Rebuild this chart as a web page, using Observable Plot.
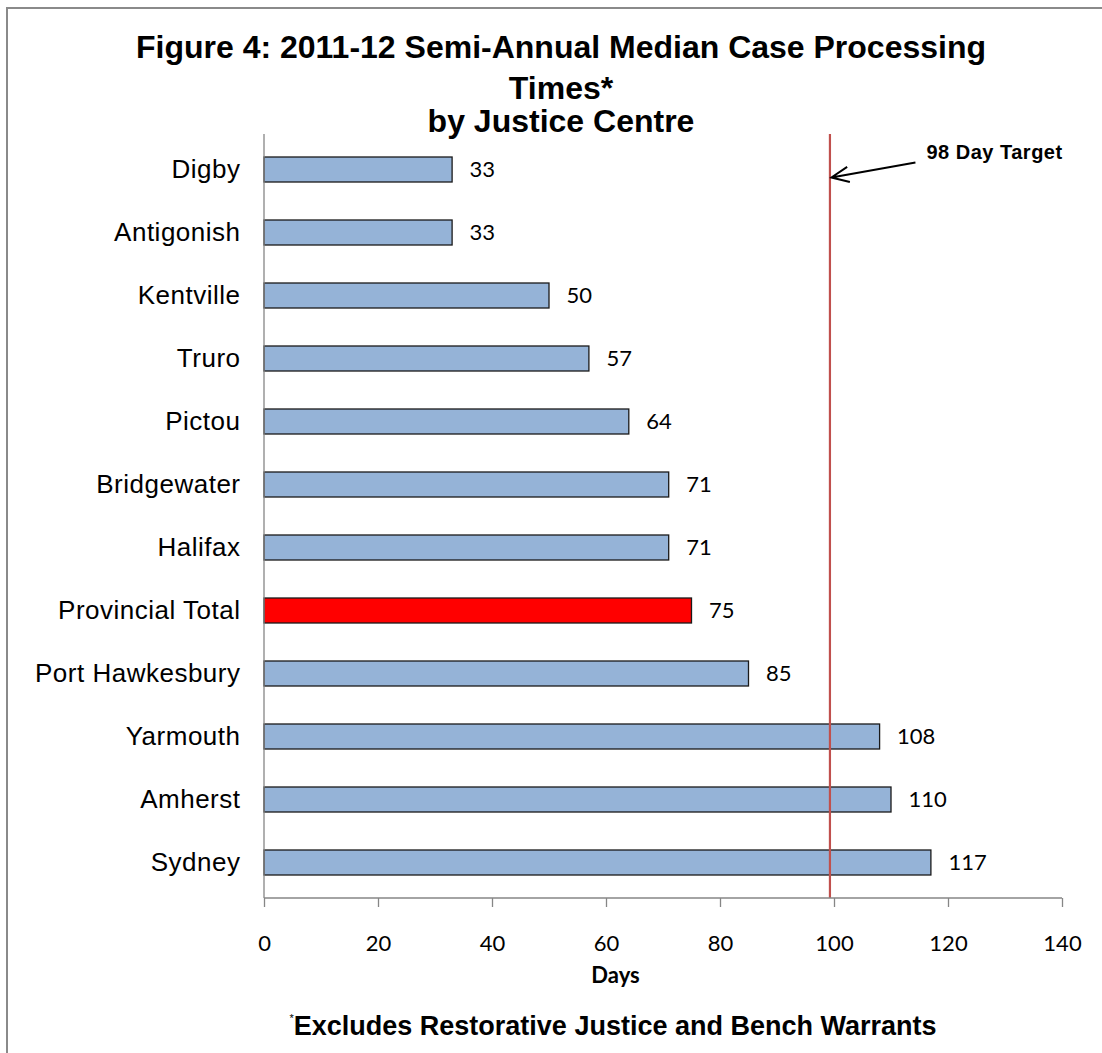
<!DOCTYPE html>
<html>
<head>
<meta charset="utf-8">
<script src="https://cdn.jsdelivr.net/npm/d3@7"></script>
<script src="https://cdn.jsdelivr.net/npm/@observablehq/plot@0.6"></script>
<style>
  body { margin: 0; background: #fff; }
  #wrap { position: relative; width: 1102px; height: 1053px; overflow: hidden; font-family: "Liberation Sans", Arial, sans-serif; }
  #border { position: absolute; left: 6px; top: 7px; width: 1300px; height: 1300px; border-left: 2px solid #8a8a8a; border-top: 2px solid #8a8a8a; box-sizing: border-box; pointer-events: none; }
  #header { position: relative; height: 125px; }
  .tl { position: absolute; left: 10px; width: 1102px; text-align: center; font-weight: bold; font-size: 32px; line-height: 38px; color: #000; white-space: nowrap; }
  #chart { position: relative; height: 873px; }
  #chart svg { display: block; }
  #chart svg g[aria-label="y-axis tick label"] text { letter-spacing: 0.5px; }
  #foot { position: relative; margin-top: 5px; left: 62px; width: 1102px; text-align: center; font-weight: bold; font-size: 27px; line-height: 30px; color: #000; white-space: nowrap; }
  #foot sup { font-size: 11px; vertical-align: 13px; font-weight: normal; }
</style>
</head>
<body>
<div id="wrap">
  <div id="header">
    <div class="tl" id="t1" style="top:28px"></div>
    <div class="tl" id="t2" style="top:69px"></div>
    <div class="tl" id="t3" style="top:102px"></div>
  </div>
  <div id="chart"></div>
  <div id="foot"></div>
  <div id="border"></div>
</div>
<script>
// ---- Data ----
const centres = ["Digby", "Antigonish", "Kentville", "Truro", "Pictou", "Bridgewater", "Halifax", "Provincial Total", "Port Hawkesbury", "Yarmouth", "Amherst", "Sydney"];
const days = [33, 33, 50, 57, 64, 71, 71, 75, 85, 108, 110, 117];
const xTicks = [0, 20, 40, 60, 80, 100, 120, 140];
const xDomain = [0, 140];
const highlighted = "Provincial Total";
const targetLine = 99.2;            // where the red target line is drawn
const targetLabel = "98 Day Target";
const titleLines = ["Figure 4: 2011-12 Semi-Annual Median Case Processing", "Times*", "by Justice Centre"];
const xLabel = "Days";
const footnoteMark = "*";
const footnote = "Excludes Restorative Justice and Bench Warrants";

// ---- Texts ----
document.getElementById("t1").textContent = titleLines[0];
document.getElementById("t2").textContent = titleLines[1];
document.getElementById("t3").textContent = titleLines[2];
const foot = document.getElementById("foot");
const sup = document.createElement("sup"); sup.textContent = footnoteMark;
foot.appendChild(sup);
foot.appendChild(document.createTextNode(footnote));

const data = centres.map((name, i) => ({name, value: days[i]}));

const BLUE = "#95b3d7", RED = "#ff0000", AXIS = "#868686";
const numFont = "Lato, 'Open Sans', sans-serif";

// axis lines (left and bottom of the plot frame)
const axisLines = (index, scales, values, dim) => {
  const g = d3.create("svg:g").attr("stroke", AXIS).attr("stroke-width", 1.3);
  const x0 = dim.marginLeft, x1 = dim.width - dim.marginRight;
  const y0 = dim.marginTop, y1 = dim.height - dim.marginBottom;
  g.append("line").attr("x1", x0).attr("x2", x0).attr("y1", y0).attr("y2", y1);
  g.append("line").attr("x1", x0).attr("x2", x1).attr("y1", y1).attr("y2", y1);
  return g.node();
};

// target annotation arrow + label
const targetNote = (index, scales, values, dim) => {
  const xs = scales.x, ys = scales.y;
  const bw = ys.bandwidth ? ys.bandwidth() : 0;
  const tx = xs(targetLine);
  const cy = ys(centres[0]) + bw / 2;
  const g = d3.create("svg:g");
  const tip = [tx + 2, cy + 8], tail = [tx + 86, cy - 7];
  const ang = Math.atan2(tail[1] - tip[1], tail[0] - tip[0]);
  const L = 19, A = 0.42;
  const h1 = [tip[0] + L * Math.cos(ang + A), tip[1] + L * Math.sin(ang + A)];
  const h2 = [tip[0] + L * Math.cos(ang - A), tip[1] + L * Math.sin(ang - A)];
  g.append("path")
    .attr("d", `M${tail}L${tip}M${h1}L${tip}L${h2}`)
    .attr("fill", "none").attr("stroke", "#000").attr("stroke-width", 2);
  g.append("text")
    .attr("x", tx + 97).attr("y", cy - 11)
    .attr("text-anchor", "start")
    .attr("font-family", "'Liberation Sans', Arial, sans-serif")
    .attr("font-weight", "bold").attr("font-size", 20)
    .attr("letter-spacing", "0.5px")
    .attr("fill", "#000")
    .text(targetLabel);
  return g.node();
};

const chart = Plot.plot({
  width: 1102,
  height: 873,
  marginTop: 9,
  marginBottom: 100,
  marginLeft: 264,
  marginRight: 40,
  style: {background: "transparent", overflow: "visible"},
  x: {domain: xDomain, ticks: xTicks},
  y: {domain: centres, paddingInner: 0.6, paddingOuter: 0.3, align: 0.5},
  color: {type: "identity"},
  marks: [
    Plot.axisY({tickSize: 0, tickPadding: 24, fontSize: 26, fill: "#000",
      fontFamily: "'Liberation Sans', Arial, sans-serif", label: null}),
    Plot.axisX({ticks: xTicks, tickSize: 9, tickPadding: 28, stroke: AXIS, strokeWidth: 1.3,
      fontSize: 22, fill: "#000", fontFamily: numFont, label: null}),
    Plot.barX(data, {
      x: "value", y: "name",
      fill: d => d.name === highlighted ? RED : BLUE,
      stroke: "#1a1a1a", strokeWidth: 1.3
    }),
    Plot.text(data, {
      x: "value", y: "name", text: d => String(d.value),
      dx: 17, textAnchor: "start", fontSize: 22, fontFamily: numFont, fill: "#000"
    }),
    Plot.ruleX([targetLine], {stroke: "#c0504d", strokeWidth: 2.2}),
    axisLines,
    targetNote,
    Plot.text([xLabel], {
      text: d => d, frameAnchor: "bottom", lineAnchor: "top",
      dx: -48, dy: 69, fontSize: 22, fontWeight: "bold", fontFamily: numFont, fill: "#000"
    })
  ]
});
document.getElementById("chart").appendChild(chart);
</script>
</body>
</html>
